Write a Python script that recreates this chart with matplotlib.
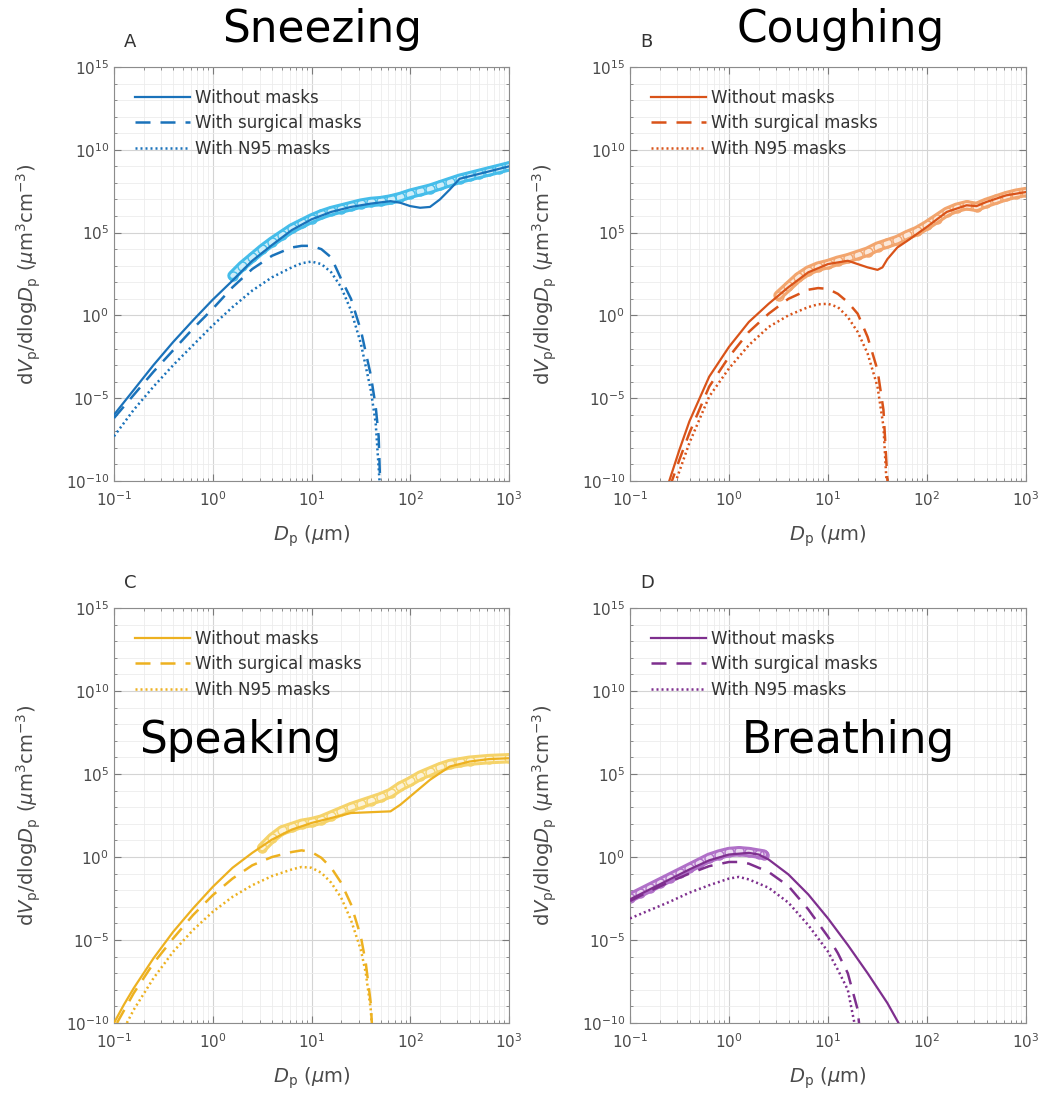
import numpy as np
import matplotlib
matplotlib.use("Agg")
import matplotlib.pyplot as plt
from matplotlib.ticker import FixedLocator, LogFormatterSciNotation, NullFormatter

plt.rcParams['font.family'] = ['DejaVu Sans']
plt.rcParams['mathtext.fontset'] = 'dejavusans'

# all values are log10 exponents: log10(Dp / um), log10(dVp/dlogDp)
# --- A: sneezing
a_sol_x = [-1.0, -0.8, -0.6, -0.4, -0.2, 0.0, 0.2, 0.4, 0.6, 0.8, 1.0, 1.2, 1.4, 1.6, 1.8, 1.9, 2.0, 2.1, 2.2, 2.3, 2.4, 2.5, 2.6, 2.8, 3.0]
a_sol_y = [-6.0, -4.5, -3.0, -1.6, -0.3, 0.95, 2.1, 3.3, 4.25, 5.15, 5.8, 6.25, 6.55, 6.75, 6.9, 6.8, 6.6, 6.5, 6.55, 7.0, 7.6, 8.25, 8.4, 8.7, 9.0]
a_obs_x = [0.2, 0.3, 0.4, 0.5, 0.6, 0.7, 0.8, 0.9, 1.0, 1.1, 1.2, 1.3, 1.4, 1.5, 1.6, 1.7, 1.8, 1.9, 2.0, 2.1, 2.2, 2.3, 2.4, 2.5, 2.6, 2.7, 2.8, 2.9, 3.0]
a_obs_y = [2.4, 3.0, 3.5, 4.0, 4.45, 4.85, 5.25, 5.55, 5.85, 6.1, 6.3, 6.45, 6.6, 6.75, 6.85, 6.9, 7.0, 7.15, 7.35, 7.5, 7.65, 7.85, 8.05, 8.25, 8.4, 8.55, 8.7, 8.85, 9.0]
a_sur_x = [-1.0, -0.8, -0.6, -0.4, -0.2, 0.0, 0.2, 0.4, 0.6, 0.8, 0.9, 1.0, 1.1, 1.2, 1.3, 1.4, 1.5, 1.6, 1.65, 1.68, 1.7]
a_sur_y = [-6.2, -4.8, -3.4, -2.1, -0.8, 0.4, 1.7, 2.8, 3.6, 4.1, 4.2, 4.2, 4.0, 3.5, 2.2, 1.0, -0.9, -3.6, -5.5, -7.3, -11]
a_n95_x = [-1.0, -0.8, -0.6, -0.4, -0.2, 0.0, 0.2, 0.4, 0.6, 0.8, 0.9, 1.0, 1.1, 1.2, 1.3, 1.4, 1.5, 1.6, 1.65, 1.7]
a_n95_y = [-7.3, -5.7, -4.3, -3.0, -1.8, -0.6, 0.5, 1.5, 2.3, 2.9, 3.15, 3.25, 3.1, 2.6, 1.7, 0.3, -1.7, -4.5, -6.5, -11]

# --- B: coughing
b_sol_x = [-0.62, -0.5, -0.4, -0.2, 0.0, 0.2, 0.4, 0.6, 0.8, 1.0, 1.2, 1.3, 1.4, 1.5, 1.55, 1.6, 1.7, 1.8, 2.0, 2.2, 2.4, 2.5, 2.6, 2.8, 3.0]
b_sol_y = [-10.3, -8.1, -6.4, -3.7, -1.9, -0.4, 0.7, 1.7, 2.6, 3.1, 3.3, 3.1, 2.9, 2.75, 2.9, 3.4, 4.1, 4.5, 5.35, 6.25, 6.65, 6.6, 6.85, 7.25, 7.45]
b_obs_x = [0.5, 0.6, 0.7, 0.8, 0.9, 1.0, 1.1, 1.2, 1.3, 1.4, 1.5, 1.6, 1.7, 1.8, 1.9, 2.0, 2.1, 2.2, 2.3, 2.4, 2.5, 2.6, 2.7, 2.8, 2.9, 3.0]
b_obs_y = [1.2, 1.75, 2.3, 2.7, 2.95, 3.1, 3.3, 3.45, 3.65, 3.85, 4.15, 4.35, 4.55, 4.85, 5.1, 5.45, 5.85, 6.25, 6.5, 6.65, 6.55, 6.8, 7.0, 7.2, 7.35, 7.45]
b_sur_x = [-0.6, -0.5, -0.4, -0.2, 0.0, 0.2, 0.4, 0.6, 0.8, 0.9, 1.0, 1.1, 1.2, 1.3, 1.4, 1.5, 1.56, 1.61]
b_sur_y = [-10.4, -8.7, -7.1, -4.3, -2.5, -1.0, 0.1, 1.0, 1.55, 1.65, 1.6, 1.3, 0.8, 0.1, -1.3, -3.3, -5.7, -11]
b_n95_x = [-0.56, -0.4, -0.2, 0.0, 0.2, 0.4, 0.6, 0.8, 0.9, 1.0, 1.1, 1.2, 1.3, 1.4, 1.5, 1.56, 1.6]
b_n95_y = [-10.4, -7.7, -4.9, -3.2, -1.8, -0.7, 0.0, 0.5, 0.67, 0.7, 0.5, -0.1, -1.0, -2.3, -4.3, -6.7, -11]

# --- C: speaking
c_sol_x = [-1.0, -0.9, -0.8, -0.6, -0.4, -0.2, 0.0, 0.2, 0.4, 0.6, 0.8, 1.0, 1.2, 1.4, 1.6, 1.8, 1.9, 2.0, 2.2, 2.4, 2.6, 2.8, 3.0]
c_sol_y = [-10.0, -8.9, -7.9, -6.1, -4.5, -3.1, -1.8, -0.65, 0.25, 1.05, 1.65, 2.05, 2.35, 2.65, 2.7, 2.75, 3.15, 3.65, 4.65, 5.45, 5.75, 5.9, 5.95]
c_obs_x = [0.5, 0.6, 0.7, 0.8, 0.9, 1.0, 1.1, 1.2, 1.3, 1.4, 1.5, 1.6, 1.7, 1.8, 1.9, 2.0, 2.1, 2.2, 2.3, 2.4, 2.5, 2.6, 2.8, 3.0]
c_obs_y = [0.55, 1.15, 1.6, 1.8, 2.0, 2.1, 2.25, 2.5, 2.75, 3.0, 3.2, 3.4, 3.6, 3.85, 4.25, 4.55, 4.9, 5.15, 5.4, 5.6, 5.7, 5.8, 5.9, 5.95]
c_sur_x = [-0.97, -0.8, -0.6, -0.4, -0.2, 0.0, 0.2, 0.4, 0.6, 0.8, 0.9, 1.0, 1.1, 1.2, 1.3, 1.4, 1.5, 1.55, 1.6, 1.62]
c_sur_y = [-10.0, -8.2, -6.4, -4.9, -3.5, -2.3, -1.3, -0.5, 0.0, 0.3, 0.4, 0.3, -0.05, -0.65, -1.55, -2.85, -4.8, -6.4, -8.8, -11]
c_n95_x = [-0.87, -0.8, -0.6, -0.4, -0.2, 0.0, 0.2, 0.4, 0.6, 0.8, 0.9, 1.0, 1.1, 1.2, 1.3, 1.4, 1.5, 1.55, 1.6, 1.62]
c_n95_y = [-10.0, -9.2, -7.3, -5.7, -4.4, -3.3, -2.4, -1.7, -1.15, -0.75, -0.6, -0.65, -0.95, -1.55, -2.45, -3.8, -5.6, -7.0, -9.2, -11]

# --- D: breathing
d_sol_x = [-1.0, -0.8, -0.6, -0.4, -0.2, 0.0, 0.2, 0.3, 0.4, 0.6, 0.8, 1.0, 1.2, 1.4, 1.6, 1.75]
d_sol_y = [-2.55, -1.95, -1.35, -0.75, -0.2, 0.15, 0.25, 0.15, -0.15, -1.05, -2.25, -3.7, -5.3, -7.0, -8.8, -10.4]
d_obs_x = [-1.0, -0.9, -0.8, -0.7, -0.6, -0.5, -0.4, -0.3, -0.2, -0.1, 0.0, 0.1, 0.2, 0.3, 0.35]
d_obs_y = [-2.45, -2.15, -1.85, -1.55, -1.25, -0.95, -0.65, -0.35, -0.05, 0.15, 0.3, 0.35, 0.3, 0.2, 0.15]
d_sur_x = [-1.0, -0.8, -0.6, -0.4, -0.2, 0.0, 0.1, 0.2, 0.4, 0.6, 0.8, 1.0, 1.1, 1.2, 1.3, 1.33]
d_sur_y = [-2.65, -2.05, -1.5, -1.0, -0.55, -0.3, -0.3, -0.4, -0.9, -1.75, -3.15, -4.8, -5.8, -7.0, -9.2, -11]
d_n95_x = [-1.0, -0.8, -0.6, -0.4, -0.2, 0.0, 0.1, 0.2, 0.4, 0.6, 0.8, 1.0, 1.1, 1.2, 1.3]
d_n95_y = [-3.7, -3.2, -2.7, -2.15, -1.7, -1.3, -1.2, -1.35, -1.85, -2.75, -4.1, -5.7, -6.8, -8.0, -11]

panels = [
    dict(letter='A', title='Sneezing', col='#1a72ba', light='#45bdea',
         sol=(a_sol_x, a_sol_y), obs=(a_obs_x, a_obs_y), sur=(a_sur_x, a_sur_y), n95=(a_n95_x, a_n95_y),
         rect=[114, 67, 395, 414], title_xy=(322, 42)),
    dict(letter='B', title='Coughing', col='#d95319', light='#f2a56e',
         sol=(b_sol_x, b_sol_y), obs=(b_obs_x, b_obs_y), sur=(b_sur_x, b_sur_y), n95=(b_n95_x, b_n95_y),
         rect=[630, 67, 396, 414], title_xy=(841, 42)),
    dict(letter='C', title='Speaking', col='#edb120', light='#f5d36a',
         sol=(c_sol_x, c_sol_y), obs=(c_obs_x, c_obs_y), sur=(c_sur_x, c_sur_y), n95=(c_n95_x, c_n95_y),
         rect=[114, 608, 395, 415], title_xy=(240, 753)),
    dict(letter='D', title='Breathing', col='#7e2f8e', light='#b070c8',
         sol=(d_sol_x, d_sol_y), obs=(d_obs_x, d_obs_y), sur=(d_sur_x, d_sur_y), n95=(d_n95_x, d_n95_y),
         rect=[630, 608, 396, 415], title_xy=(848, 753)),
]

W, H = 1041, 1101
fig = plt.figure(figsize=(W / 100, H / 100), dpi=100)
gray = '#4a4a4a'

def p10(v):
    return np.power(10.0, np.array(v, dtype=float))

for p in panels:
    l, t, w, h = p['rect']
    ax = fig.add_axes([l / W, 1 - (t + h) / H, w / W, h / H])
    ax.set_xscale('log')
    ax.set_yscale('log')

    # measured points: open circles packed into a tube
    ox, oy = p10(p['obs'][0]), p10(p['obs'][1])
    ax.plot(ox, oy, '-', color=p['light'], lw=7.5, solid_capstyle='round', zorder=2)
    ax.plot(ox, oy, '-', color='white', lw=3.2, alpha=0.75, solid_capstyle='round', zorder=2)
    ax.plot(ox, oy, 'o', mfc='none', mec=p['light'], ms=6.5, mew=1.0, zorder=2)

    h1, = ax.plot(p10(p['sol'][0]), p10(p['sol'][1]), '-', color=p['col'], lw=1.6, zorder=3,
                  label='Without masks')
    h2, = ax.plot(p10(p['sur'][0]), p10(p['sur'][1]), '--', color=p['col'], lw=1.8, dashes=(6, 4), zorder=3,
                  label='With surgical masks')
    h3, = ax.plot(p10(p['n95'][0]), p10(p['n95'][1]), ':', color=p['col'], lw=1.8, dashes=(0.8, 1.2), zorder=3,
                  label='With N95 masks')

    ax.set_xlim(0.1, 1000)
    ax.set_ylim(1e-10, 1e15)
    ax.xaxis.set_major_locator(FixedLocator([0.1, 1, 10, 100, 1000]))
    ax.xaxis.set_minor_locator(FixedLocator([m * 10.0 ** e for e in range(-1, 3) for m in range(2, 10)]))
    ax.yaxis.set_major_locator(FixedLocator([1e-10, 1e-5, 1, 1e5, 1e10, 1e15]))
    ax.yaxis.set_minor_locator(FixedLocator([10.0 ** e for e in range(-10, 16)]))
    ax.xaxis.set_major_formatter(LogFormatterSciNotation())
    ax.yaxis.set_major_formatter(LogFormatterSciNotation())
    ax.xaxis.set_minor_formatter(NullFormatter())
    ax.yaxis.set_minor_formatter(NullFormatter())

    ax.grid(True, which='major', color='#d4d4d4', lw=0.8)
    ax.grid(True, which='minor', color='#ececec', lw=0.6)
    ax.set_axisbelow(True)
    ax.tick_params(which='both', direction='in', top=True, right=True, colors='#7a7a7a',
                   labelcolor=gray, labelsize=11)
    ax.tick_params(which='major', length=5)
    ax.tick_params(which='minor', length=2.5)
    ax.tick_params(axis='x', pad=7)
    for s in ax.spines.values():
        s.set_color('#8c8c8c')
        s.set_linewidth(0.8)

    ax.set_xlabel(r'$D_\mathrm{p}$ ($\mu$m)', fontsize=14, color=gray, labelpad=10)
    ax.set_ylabel(r'd$V_\mathrm{p}$/dlog$D_\mathrm{p}$ ($\mu$m$^3$cm$^{-3}$)', fontsize=14, color=gray,
                  labelpad=16)

    leg = ax.legend(handles=[h1, h2, h3], loc='upper left', frameon=False, fontsize=12,
                    handlelength=3.3, handletextpad=0.3, labelspacing=0.45,
                    borderaxespad=0.4, bbox_to_anchor=(0.02, 0.98))
    for txt in leg.get_texts():
        txt.set_color('#333333')

    fig.text((l + 10) / W, 1 - (t - 25) / H, p['letter'], fontsize=13, color='#333333',
             ha='left', va='center')
    tx, ty = p['title_xy']
    fig.text(tx / W, 1 - ty / H, p['title'], fontsize=31.5, color='black', ha='center', va='baseline')

fig.savefig('out.png', dpi=100)
